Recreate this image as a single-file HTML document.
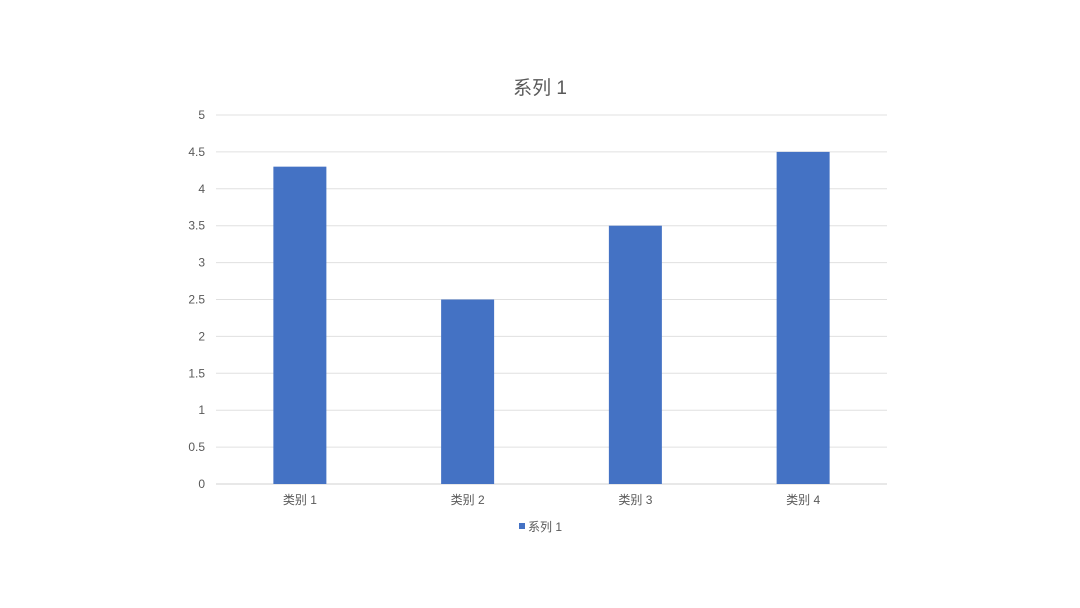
<!DOCTYPE html>
<html><head><meta charset="utf-8"><style>
html,body{margin:0;padding:0;background:#fff;}
svg{display:block;font-family:"Liberation Sans","Noto Sans CJK SC",sans-serif;}
</style></head><body>
<svg id="chart" width="1080" height="608">
<text x="540" y="94" text-anchor="middle" font-size="19" fill="#595959">系列 1</text>
<g id="grid"></g><g id="bars"></g><g id="labels"></g>
<g>
<rect x="519" y="523" width="6" height="6" fill="#4472c4"></rect>
<text x="528" y="531" font-size="12" fill="#595959">系列 1</text>
</g>
</svg>
<script>
const categories=["类别 1","类别 2","类别 3","类别 4"];
const values=[4.3,2.5,3.5,4.5];
const yTicks=[0,0.5,1,1.5,2,2.5,3,3.5,4,4.5,5];
const NS="http://www.w3.org/2000/svg";
const L=216,R=887,T=115,B=484,yMax=5;
const y=v=>B-(v/yMax)*(B-T);
const bw=(R-L)/categories.length;
const x=i=>L+bw*(i+0.5);
function mk(t,a,p){const e=document.createElementNS(NS,t);for(const k in a)e.setAttribute(k,a[k]);p.appendChild(e);return e;}
const g=document.getElementById('grid'),b=document.getElementById('bars'),lb=document.getElementById('labels');
yTicks.forEach(v=>{
 const l=mk('line',{x1:L,x2:R,y1:y(v),y2:y(v),stroke:v===0?'#d0d0d0':'#e0e0e0','stroke-width':1},g);
 
 
 const t=mk('text',{x:205,y:y(v)+4,'text-anchor':'end','font-size':12,fill:'#595959'},lb);
 t.textContent=String(v);
 
 
});
categories.forEach((c,i)=>{
 const w=53;
 const r=mk('rect',{x:x(i)-w/2,y:y(values[i]),width:w,height:B-y(values[i]),fill:'#4472c4'},b);
 
 
 const t=mk('text',{x:x(i),y:504,'text-anchor':'middle','font-size':12,fill:'#595959'},lb);
 t.textContent=c;
 
 
});
</script>
</body></html>
